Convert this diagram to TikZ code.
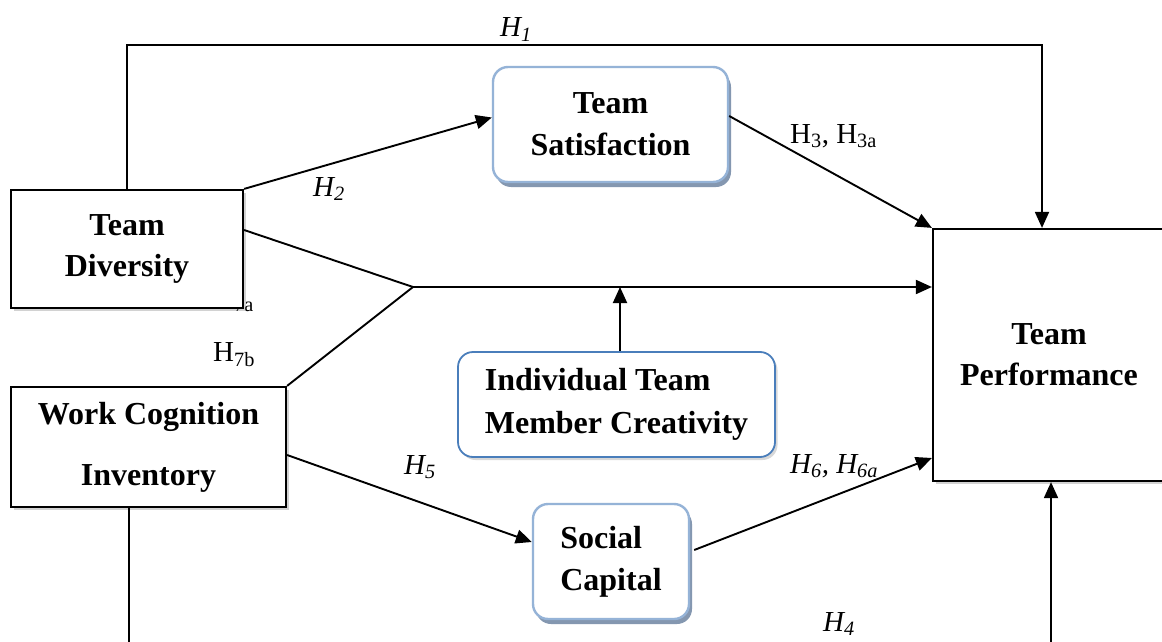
\documentclass[tikz,border=0pt]{standalone}
\usepackage{fontspec}
\setmainfont{Liberation Serif}
\usetikzlibrary{arrows.meta,shadows}
\definecolor{lblue}{RGB}{149,179,215}
\definecolor{mblue}{RGB}{74,126,187}
\definecolor{sblue}{RGB}{132,151,176}
\tikzset{
  sqbox/.style={draw=black, line width=2.2pt, fill=white, align=center, inner sep=0pt,
    font=\fontsize{32}{41}\selectfont\bfseries,
    drop shadow={opacity=0.35, shadow xshift=2.5pt, shadow yshift=-3pt}},
  rbox/.style={draw=lblue, line width=2.4pt, fill=white, rounded corners=15pt, inner sep=0pt,
    font=\fontsize{32}{42}\selectfont\bfseries,
    drop shadow={fill=sblue, opacity=1, shadow xshift=3pt, shadow yshift=-5pt}},
  cbox/.style={draw=mblue, line width=1.8pt, fill=white, rounded corners=15pt, inner sep=0pt,
    font=\fontsize{32}{43}\selectfont\bfseries,
    drop shadow={opacity=0.3, shadow xshift=2.5pt, shadow yshift=-3pt}},
  conn/.style={line width=1.9pt},
  arr/.style={conn, -{Triangle[length=16pt,width=14pt]}},
  hl/.style={font=\fontsize{29}{34}\selectfont, anchor=base west, inner sep=0pt},
}
\begin{document}
\begin{tikzpicture}[x=1pt,y=-1pt]
\clip (0,0) rectangle (1162,642);
\fill[white] (0,0) rectangle (1162,642);

% hidden label behind Team Diversity
\node[hl] (h7a) at (213,307) {H\textsubscript{7a}};

% boxes
\node[sqbox, minimum width=232pt, minimum height=118pt] (td) at (127,249) {Team\\Diversity};
\node[sqbox, minimum width=275pt, minimum height=120pt] (wci) at (148.5,447) {Work Cognition\\[20pt]Inventory};
\node[sqbox, minimum width=232pt, minimum height=252pt] (tp) at (1049,355) {Team\\Performance};
\node[rbox, minimum width=235pt, minimum height=115pt, align=center] (ts) at (610.5,124.5) {Team\\Satisfaction};
\node[cbox, minimum width=317pt, minimum height=105pt, align=left] (cr) at (616.5,404.5) {Individual Team\\Member Creativity};
\node[rbox, minimum width=156pt, minimum height=115pt, align=left] (sc) at (611,561.5) {Social\\Capital};

% free ends at the bottom edge
\coordinate (b1) at (129,660);
\coordinate (b2) at (1051,660);
\coordinate (j) at (413,287);

% connectors
\draw[arr] (td.north) -- ++(0,-144) -| ([xshift=-7pt]tp.north);
\draw[arr] (td.north east) -- ([yshift=7pt]ts.west);
\draw[arr] ([yshift=8.5pt]ts.east) -- (tp.north west);
\draw[conn] ([yshift=19pt]td.east) -- (j);
\draw[conn] (j) -- (wci.north east);
\draw[arr] (j) -- (tp.west |- j);
\draw[arr] ([xshift=3.5pt]cr.north) -- ([xshift=3.5pt]cr.north |- j);
\draw[arr] ([yshift=-8pt]wci.east) -- ([yshift=19.5pt]sc.west);
\draw[arr] ([xshift=4pt,yshift=11.5pt]sc.east) -- ([yshift=-103pt]tp.west);
\draw[conn] (wci.south -| b1) -- (b1);
\draw[arr] (b2) -- (tp.south -| b2);

% labels
\node[hl] (h1) at (500,37) {\itshape H\textsubscript{1}};
\node[hl] (h2) at (313,196) {\itshape H\textsubscript{2}};
\node[hl] (h3) at (790,143) {H\textsubscript{3}, H\textsubscript{3a}};
\node[hl] (h7b) at (213,361) {H\textsubscript{7b}};
\node[hl] (h5) at (404,474) {\itshape H\textsubscript{5}};
\node[hl] (h6) at (790,473) {\itshape H\textsubscript{6}, H\textsubscript{6a}};
\node[hl] (h4) at (823,631) {\itshape H\textsubscript{4}};
\end{tikzpicture}
\end{document}
